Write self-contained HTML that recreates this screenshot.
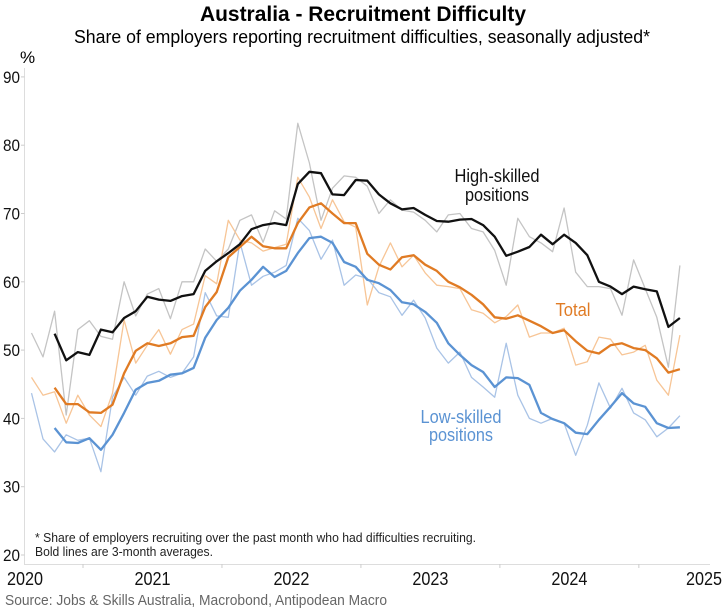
<!DOCTYPE html>
<html><head><meta charset="utf-8"><style>
body{margin:0;background:#fff}
svg{display:block;font-family:"Liberation Sans Narrow","Liberation Sans",sans-serif}
</style></head><body>
<svg id="chart" width="722" height="609" viewBox="0 0 722 609" xmlns="http://www.w3.org/2000/svg">
<text x="363" y="21" text-anchor="middle" font-size="21" font-weight="bold" textLength="326" lengthAdjust="spacingAndGlyphs">Australia - Recruitment Difficulty</text>
<text x="362" y="43" text-anchor="middle" font-size="18" textLength="576" lengthAdjust="spacingAndGlyphs">Share of employers reporting recruitment difficulties, seasonally adjusted*</text>
<text x="20" y="63" font-size="17">%</text>
<line x1="24.5" y1="68" x2="24.5" y2="564" stroke="#ddd" stroke-width="1"/>
<line x1="24" y1="564.5" x2="710" y2="564.5" stroke="#ddd" stroke-width="1"/>
<g id="yticks"></g><g id="xticks"></g><g id="series"></g>
<text x="497" y="182" text-anchor="middle" font-size="18" fill="#111" textLength="85" lengthAdjust="spacingAndGlyphs">High-skilled</text>
<text x="497" y="201" text-anchor="middle" font-size="18" fill="#111" textLength="64" lengthAdjust="spacingAndGlyphs">positions</text>
<text x="573" y="316" text-anchor="middle" font-size="18" fill="#e07b24" textLength="35" lengthAdjust="spacingAndGlyphs">Total</text>
<text x="461" y="423" text-anchor="middle" font-size="18" fill="#5b93d3" textLength="81" lengthAdjust="spacingAndGlyphs">Low-skilled</text>
<text x="461" y="441" text-anchor="middle" font-size="18" fill="#5b93d3" textLength="64" lengthAdjust="spacingAndGlyphs">positions</text>
<text x="35" y="542" font-size="13" fill="#222" textLength="441" lengthAdjust="spacingAndGlyphs">* Share of employers recruiting over the past month who had difficulties recruiting.</text>
<text x="35" y="556" font-size="13" fill="#222" textLength="178" lengthAdjust="spacingAndGlyphs">Bold lines are 3-month averages.</text>
<text x="5" y="605" font-size="15" fill="#666" textLength="382" lengthAdjust="spacingAndGlyphs">Source: Jobs &amp; Skills Australia, Macrobond, Antipodean Macro</text>
</svg>
<script>
const yTicks=[20,30,40,50,60,70,80,90];
const years=[2020,2021,2022,2023,2024,2025];
const startMonth=-4.45;
const highRaw=[52.5,49,55.7,40.5,53,54.3,52,51.6,60,55,58.2,59,54.6,60,60,64.8,63,64.8,69,69.8,65.8,70.4,69.2,83.2,77.4,69,73.7,75.5,75.3,74,70,72,70.5,70.2,69,67.3,69.8,70,67.8,67.3,64.6,59.5,69.3,66.6,65.7,64.4,70.8,61.4,59.3,59.3,59,55.1,63.2,59,54.8,47.5,62.4];
const highAvg=[null,null,52.4,48.5,49.7,49.3,53,52.6,54.7,55.7,57.8,57.4,57.2,57.9,58.2,61.6,63,64.2,65.5,67.7,68.3,68.6,68.3,74.3,76.1,75.9,72.8,72.7,74.9,74.8,72.8,71.5,70.6,70.8,69.8,68.9,68.8,69.1,69.2,68.3,66.6,63.8,64.4,65.1,66.9,65.5,66.9,65.7,63.9,60,59.3,58.2,59.3,58.9,58.6,53.4,54.7];
const totalRaw=[46,43.4,43.9,39.3,43.4,40.5,38.8,43.7,54.4,48.1,50.7,53,49.4,53,53.8,60.9,59.7,69,66.1,65.7,64.5,65,65.5,75.3,72.4,67.8,72,68.8,68,56.6,62.2,65.7,62.2,63.9,61.3,59.5,59.3,59,55.9,55.4,54,54.9,56.6,51.9,52.5,52.5,53.2,47.8,48.3,51.9,51.6,49.3,49.7,50.7,45.6,43.4,52.2];
const totalAvg=[null,null,44.5,42.1,42.1,40.9,40.8,42,46.6,49.9,51,50.6,51,51.9,52.1,56.3,58.5,63.6,65.1,66.6,65.2,64.9,64.9,68.6,70.9,71.5,70,68.6,68.6,64.1,62.5,61.8,63.6,63.9,62.5,61.6,60,59.2,58.1,56.7,54.8,54.6,55.1,54.3,53.5,52.5,52.9,51.3,49.9,49.5,50.7,51,50.3,50,48.8,46.7,47.2];
const lowRaw=[43.7,37,35.1,37.6,36.8,37.1,32.2,43.1,46,43.4,46.2,46.9,46,46.6,49,58.4,55,54.8,65.8,59.5,60.8,61.4,62.4,69.3,67.5,63.3,66.1,59.5,61,60.5,58.4,57.8,55.1,57.3,54.7,50.3,48.1,49.7,46,44.6,43.1,51,43.4,40,39.3,40,39.3,34.6,39,45.2,41.5,44.4,40.8,39.8,37.3,38.6,40.4];
const lowAvg=[null,null,38.6,36.5,36.4,37.1,35.4,37.6,40.8,44.2,45.2,45.5,46.4,46.6,47.4,51.8,54.4,56.2,58.7,60.3,62.2,60.7,61.6,64.2,66.4,66.6,65.7,62.9,62.2,60.3,59.8,58.8,57,56.7,55.6,54,51,49.3,47.8,46.8,44.6,46,45.9,44.9,40.8,39.9,39.3,37.9,37.7,39.8,41.7,43.7,42.2,41.7,39.3,38.6,38.7];

const NS='http://www.w3.org/2000/svg';
const yScale=v=>555-(v-20)*6.83;
const xScale=m=>83+m*11.58;
function mk(tag,attrs,parent){const e=document.createElementNS(NS,tag);for(const k in attrs)e.setAttribute(k,attrs[k]);parent.appendChild(e);return e;}
const yg=document.getElementById('yticks');
yTicks.forEach(v=>{
  const t=mk('text',{x:20,y:yScale(v)+6,'text-anchor':'end','font-size':17,fill:'#111',textLength:17,lengthAdjust:'spacingAndGlyphs'},yg);
  
  
  t.textContent=v;
  const l=mk('line',{x1:21,x2:24.5,y1:yScale(v),y2:yScale(v),stroke:'#ccc'},yg);
  
  
});
const xg=document.getElementById('xticks');
years.forEach(y=>{
  const bx=xScale((y-2021)*12);
  if(y>2020){
    const l=mk('line',{x1:bx,x2:bx,y1:564,y2:568,stroke:'#ccc'},xg);
    
    
  }
  let cx=xScale((y-2021)*12+6);
  cx=Math.max(25,Math.min(704,cx));
  const t=mk('text',{x:cx,y:585,'text-anchor':'middle','font-size':18,fill:'#111',textLength:36,lengthAdjust:'spacingAndGlyphs'},xg);
  
  
  t.textContent=y;
});
const sg=document.getElementById('series');
function line(arr,color,w,name){
  let d='';let pen=false;
  arr.forEach((v,i)=>{if(v==null){pen=false;return;}d+=(pen?'L':'M')+xScale(startMonth+i).toFixed(1)+','+yScale(v).toFixed(1);pen=true;});
  const p=mk('path',{d:d,fill:'none',stroke:color,'stroke-width':w,'stroke-linejoin':'round'},sg);
  
  
}
line(highRaw,'#c4c4c4',1.3,'high-skilled-monthly-line');
line(totalRaw,'#f7c596',1.3,'total-monthly-line');
line(lowRaw,'#a9c3e6',1.3,'low-skilled-monthly-line');
line(lowAvg,'#5b93d3',2.3,'low-skilled-3m-avg-line');
line(totalAvg,'#e07b24',2.3,'total-3m-avg-line');
line(highAvg,'#111111',2.3,'high-skilled-3m-avg-line');
</script>
</body></html>
